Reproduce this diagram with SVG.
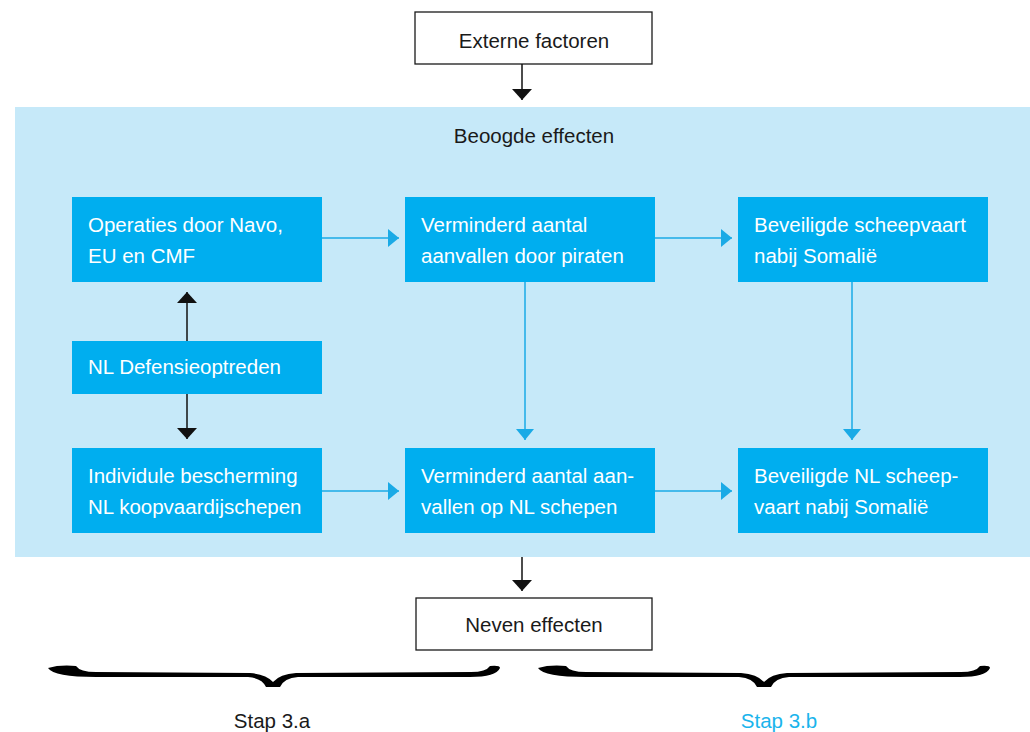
<svg xmlns="http://www.w3.org/2000/svg" width="1030" height="732" viewBox="0 0 1030 732">
<style>
text{font-family:"Liberation Sans",Arial,sans-serif;font-size:20.5px}
.box{fill:#00aeef}
.wt{fill:#ffffff}
.bk{fill:#1a1a1a}
.wb{fill:#ffffff;stroke:#1a1a1a;stroke-width:1.3}
.cb{stroke:#1aaae6;stroke-width:1.5;fill:none}
.ck{stroke:#111;stroke-width:1.5;fill:none}
</style>
<defs>
<marker id="ab" viewBox="0 0 11 18" refX="11" refY="9" markerWidth="11" markerHeight="18" orient="auto" markerUnits="userSpaceOnUse"><path d="M0,0 L11,9 L0,18 Z" fill="#1aaae6"/></marker>
<marker id="ak" viewBox="0 0 11 20" refX="11" refY="10" markerWidth="11" markerHeight="20" orient="auto" markerUnits="userSpaceOnUse"><path d="M0,0 L11,10 L0,20 Z" fill="#111"/></marker>
</defs>
<rect x="0" y="0" width="1030" height="732" fill="#ffffff"/>
<rect x="15" y="107" width="1015" height="450" fill="#c6e9f9"/>
<text x="534" y="143" text-anchor="middle" class="bk">Beoogde effecten</text>

<g id="externe"><rect class="wb" x="415" y="12" width="237" height="52"/><text x="534" y="48" text-anchor="middle" class="bk">Externe factoren</text></g>
<g id="operaties"><rect class="box" x="72" y="197" width="250" height="85"/><text x="88" y="232" class="wt">Operaties door Navo,</text><text x="88" y="263" class="wt">EU en CMF</text></g>
<g id="verminderd1"><rect class="box" x="405" y="197" width="250" height="85"/><text x="421" y="232" class="wt">Verminderd aantal</text><text x="421" y="263" class="wt">aanvallen door piraten</text></g>
<g id="beveiligd1"><rect class="box" x="738" y="197" width="250" height="85"/><text x="754" y="232" class="wt">Beveiligde scheepvaart</text><text x="754" y="263" class="wt">nabij Somalië</text></g>
<g id="defensie"><rect class="box" x="72" y="341" width="250" height="53"/><text x="88" y="374" class="wt">NL Defensieoptreden</text></g>
<g id="individuele"><rect class="box" x="72" y="448" width="250" height="85"/><text x="88" y="483" class="wt">Individule bescherming</text><text x="88" y="514" class="wt">NL koopvaardijschepen</text></g>
<g id="verminderd2"><rect class="box" x="405" y="448" width="250" height="85"/><text x="421" y="483" class="wt">Verminderd aantal aan-</text><text x="421" y="514" class="wt">vallen op NL schepen</text></g>
<g id="beveiligd2"><rect class="box" x="738" y="448" width="250" height="85"/><text x="754" y="483" class="wt">Beveiligde NL scheep-</text><text x="754" y="514" class="wt">vaart nabij Somalië</text></g>
<g id="neven"><rect class="wb" x="416" y="598" width="236" height="52"/><text x="534" y="632" text-anchor="middle" class="bk">Neven effecten</text></g>

<g id="connectors">
<line class="ck" x1="522" y1="64" x2="522" y2="100" marker-end="url(#ak)"/>
<line class="cb" x1="322" y1="238" x2="399" y2="238" marker-end="url(#ab)"/>
<line class="cb" x1="655" y1="238" x2="732" y2="238" marker-end="url(#ab)"/>
<line class="cb" x1="322" y1="491" x2="399" y2="491" marker-end="url(#ab)"/>
<line class="cb" x1="655" y1="491" x2="732" y2="491" marker-end="url(#ab)"/>
<line class="cb" x1="525" y1="282" x2="525" y2="440" marker-end="url(#ab)"/>
<line class="cb" x1="852" y1="282" x2="852" y2="440" marker-end="url(#ab)"/>
<line class="ck" x1="187" y1="341" x2="187" y2="292" marker-end="url(#ak)"/>
<line class="ck" x1="187" y1="394" x2="187" y2="439" marker-end="url(#ak)"/>
<line class="ck" x1="522" y1="557" x2="522" y2="591" marker-end="url(#ak)"/>
</g>

<g id="braces" fill="#000">
<path d="M48,668 Q60,664.5 76,666 Q80,672 96,672 L250,673 Q266,674 273,682 Q280,674 296,673 L471,672 Q486,672 490,666 Q500,665 500,668 Q496,677 470,677 L298,677 Q284,678 280,687 L266,687 Q262,678 248,677 L96,677 Q54,677 48,668 Z"/>
<path d="M538,668 Q550,664.5 566,666 Q570,672 586,672 L741,673 Q757,674 764,682 Q771,674 787,673 L961,672 Q976,672 980,666 Q990,665 990,668 Q986,677 960,677 L789,677 Q775,678 771,687 L757,687 Q753,678 739,677 L586,677 Q544,677 538,668 Z"/>
</g>
<text x="272" y="728" text-anchor="middle" class="bk">Stap 3.a</text>
<text x="779" y="728" text-anchor="middle" fill="#1ab4ec">Stap 3.b</text>
</svg>
